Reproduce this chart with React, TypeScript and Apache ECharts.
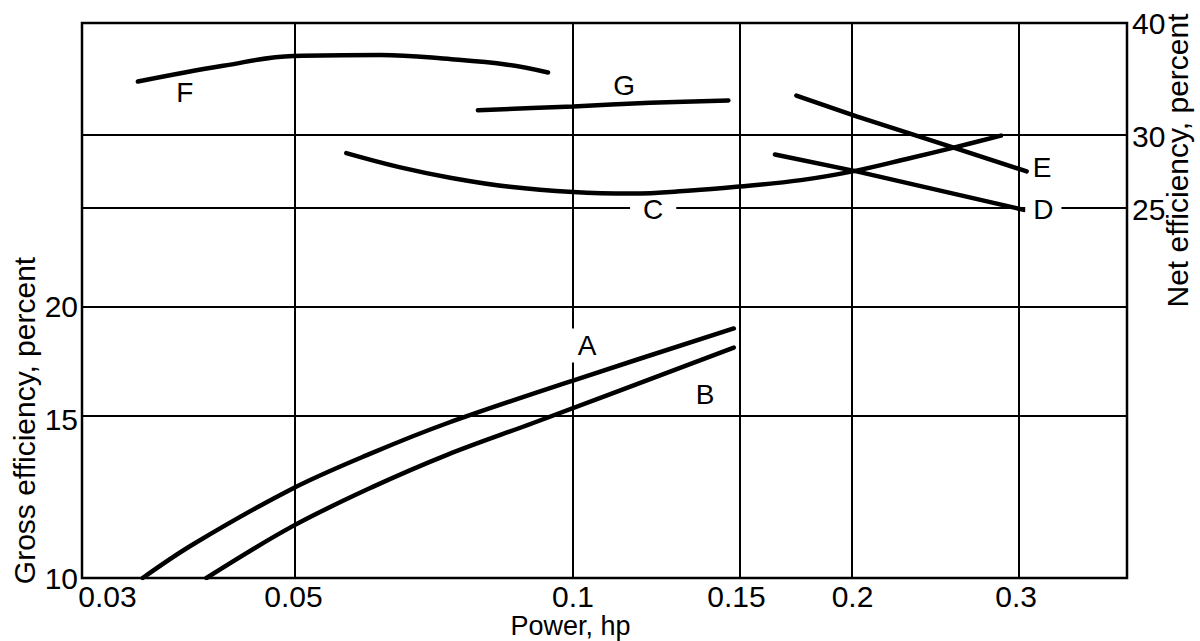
import { useEffect, useRef } from 'react';
import * as echarts from 'echarts';

// ---- axis ranges and ticks (log scales) ----
const powerRange = [0.0296, 0.395];
const grossRange = [10, 41.2];
const netRange = [9.85, 40];

const powerTicks = [0.03, 0.05, 0.1, 0.15, 0.2, 0.3];
const powerGridLines = [0.05, 0.1, 0.15, 0.2, 0.3];
const grossTicks = [10, 15, 20];
const grossGridLines = [15, 20];
const netTicks = [25, 30, 40];
const netGridLines = [25, 30];

// ---- curves (power in hp, efficiency in percent) ----
// Gross efficiency (left axis)
const aPower = [0.0344, 0.039, 0.0498, 0.0607, 0.0733, 0.1, 0.149];
const aGross = [10.0, 10.9, 12.55, 13.75, 14.85, 16.55, 18.9];
const bPower = [0.0403, 0.0498, 0.0607, 0.0733, 0.0906, 0.149];
const bGross = [10.0, 11.4, 12.6, 13.7, 14.85, 18.0];

// Net efficiency (right axis)
const cPower = [0.057, 0.065, 0.074, 0.0855, 0.1, 0.1155, 0.134, 0.15, 0.176, 0.2, 0.231, 0.257, 0.289];
const cNet = [28.8, 27.8, 27.05, 26.45, 26.1, 26.0, 26.2, 26.45, 26.9, 27.5, 28.45, 29.2, 30.1];
const dPower = [0.165, 0.202, 0.306];
const dNet = [28.7, 27.5, 24.95];
const ePower = [0.174, 0.202, 0.257, 0.308];
const eNet = [33.3, 31.6, 29.2, 27.5];
const fPower = [0.034, 0.042, 0.05, 0.062, 0.074, 0.085, 0.094];
const fNet = [34.5, 35.9, 36.8, 36.9, 36.5, 36.0, 35.3];
const gPower = [0.079, 0.1, 0.121, 0.147];
const gNet = [32.1, 32.4, 32.7, 32.9];

// curve label anchors [hp, percent]
const labelA = [0.1, 18.1];
const labelB = [0.1388, 15.95];
const labelC = [0.122, 25];
const labelD = [0.321, 25];
const labelE = [0.32, 27.74];
const labelF = [0.0382, 33.6];
const labelG = [0.1135, 34.2];

const L = Math.log10;
const FONT = '"Liberation Sans", Arial, Helvetica, sans-serif';
const FS = 30;

function pts(xs: number[], ys: number[]) {
  return xs.map((x, i) => [L(x), L(ys[i])]);
}

function labelPoint(name: string, at: number[], extra: any = {}) {
  return {
    symbol: 'circle',
    symbolSize: 1,
    z: 10,
    silent: true,
    itemStyle: { color: 'rgba(0,0,0,0)' },
    label: {
      show: true,
      position: 'inside',
      formatter: name,
      color: '#000',
      fontSize: 28,
      fontFamily: FONT,
      ...extra,
    },
    data: [{ coord: [L(at[0]), L(at[1])], value: name }],
  };
}

const curveStyle = { color: '#000', width: 4.5, cap: 'round' as const };

function curve(name: string, xs: number[], ys: number[], yAxisIndex: number, smooth: number | boolean, extra: any = {}) {
  return {
    name,
    type: 'line',
    xAxisIndex: 0,
    yAxisIndex,
    data: pts(xs, ys),
    smooth,
    showSymbol: false,
    symbol: 'none',
    lineStyle: curveStyle,
    z: 3,
    silent: true,
    emphasis: { disabled: true },
    ...extra,
  };
}

const gridLineStyle = { color: '#000', width: 2, type: 'solid' as const };

export default function App() {
  const ref = useRef<HTMLDivElement>(null);
  useEffect(() => {
    if (!ref.current) return;
    const chart = echarts.init(ref.current, undefined, { renderer: 'svg' });
    const fmtPower = (v: number) => String(parseFloat(Math.pow(10, v).toPrecision(2)));
    const option: any = {
      animation: false,
      textStyle: { fontFamily: FONT, color: '#000' },
      grid: {
        left: 82,
        right: 73,
        top: 23,
        bottom: 63,
        show: true,
        borderColor: '#000',
        borderWidth: 2.5,
        outerBoundsMode: 'none',
      },
      xAxis: {
        type: 'value',
        min: L(powerRange[0]),
        max: L(powerRange[1]),
        axisLine: { show: false },
        axisTick: { show: false },
        splitLine: { show: false },
        axisLabel: {
          customValues: powerTicks.map(L),
          formatter: (v: number) => {
            const s = fmtPower(v);
            return s === '0.03' ? '{s|' + s + '}' : s;
          },
          margin: 3,
          fontSize: FS,
          lineHeight: 30,
          color: '#000',
          fontFamily: FONT,
          rich: { s: { fontSize: FS, lineHeight: 30, color: '#000', fontFamily: FONT, padding: [0, 0, 0, 40] } },
        },
        name: 'Power, hp',
        nameLocation: 'middle',
        nameGap: 34,
        nameMoveOverlap: false,
        nameTextStyle: { fontSize: 27, lineHeight: 27, color: '#000', fontFamily: FONT, padding: [0, 68, 0, 0] },
      },
      yAxis: [
        {
          type: 'value',
          position: 'left',
          min: L(grossRange[0]),
          max: L(grossRange[1]),
          axisLine: { show: false },
          axisTick: { show: false },
          splitLine: { show: false },
          axisLabel: {
            customValues: grossTicks.map(L),
            formatter: (v: number) => String(Math.round(Math.pow(10, v))),
            margin: 4,
            fontSize: FS,
            color: '#000',
            fontFamily: FONT,
          },
          name: 'Gross efficiency, percent',
          nameLocation: 'middle',
          nameRotate: 90,
          nameGap: 43,
          nameMoveOverlap: false,
          nameTextStyle: { fontSize: FS, lineHeight: 30, color: '#000', fontFamily: FONT, padding: [0, 240, 0, 0] },
        },
        {
          type: 'value',
          position: 'right',
          min: L(netRange[0]),
          max: L(netRange[1]),
          axisLine: { show: false },
          axisTick: { show: false },
          splitLine: { show: false },
          axisLabel: {
            customValues: netTicks.map(L),
            formatter: (v: number) => String(Math.round(Math.pow(10, v))),
            margin: 5,
            fontSize: FS,
            color: '#000',
            fontFamily: FONT,
          },
          name: 'Net efficiency, percent',
          nameLocation: 'middle',
          nameRotate: 90,
          nameGap: 35,
          nameMoveOverlap: false,
          nameTextStyle: { fontSize: FS, lineHeight: 30, color: '#000', fontFamily: FONT, padding: [0, 0, 0, 280] },
        },
      ],
      series: [
        curve('A', aPower, aGross, 0, 0.35, {
          markLine: {
            silent: true,
            z: 1,
            symbol: ['none', 'none'],
            label: { show: false },
            lineStyle: gridLineStyle,
            emphasis: { disabled: true },
            data: [
              ...powerGridLines.map((v) => ({ xAxis: L(v) })),
              ...grossGridLines.map((v) => ({ yAxis: L(v) })),
            ],
          },
          markPoint: labelPoint('A', labelA, {
            backgroundColor: '#fff',
            padding: [3, 4, 3, 28],
            offset: [2, 0],
          }),
        }),
        curve('B', bPower, bGross, 0, 0.35, { markPoint: labelPoint('B', labelB) }),
        curve('C', cPower, cNet, 1, 0.4, {
          markLine: {
            silent: true,
            z: 1,
            symbol: ['none', 'none'],
            label: { show: false },
            lineStyle: gridLineStyle,
            emphasis: { disabled: true },
            data: netGridLines.map((v) => ({ yAxis: L(v) })),
          },
          markPoint: labelPoint('C', labelC, { backgroundColor: '#fff', padding: [0, 13], lineHeight: 26 }),
        }),
        curve('D', dPower, dNet, 1, false, {
          markPoint: labelPoint('D', labelD, { backgroundColor: '#fff', padding: [0, 8], lineHeight: 26 }),
        }),
        curve('E', ePower, eNet, 1, false, { markPoint: labelPoint('E', labelE) }),
        curve('F', fPower, fNet, 1, 0.4, { markPoint: labelPoint('F', labelF) }),
        curve('G', gPower, gNet, 1, 0.3, { markPoint: labelPoint('G', labelG) }),
      ],
    };
    chart.setOption(option);
    return () => chart.dispose();
  }, []);
  return (
    <div
      ref={ref}
      style={{ position: 'absolute', left: 0, top: 0, width: 1200, height: 641, background: '#fff' }}
    />
  );
}
